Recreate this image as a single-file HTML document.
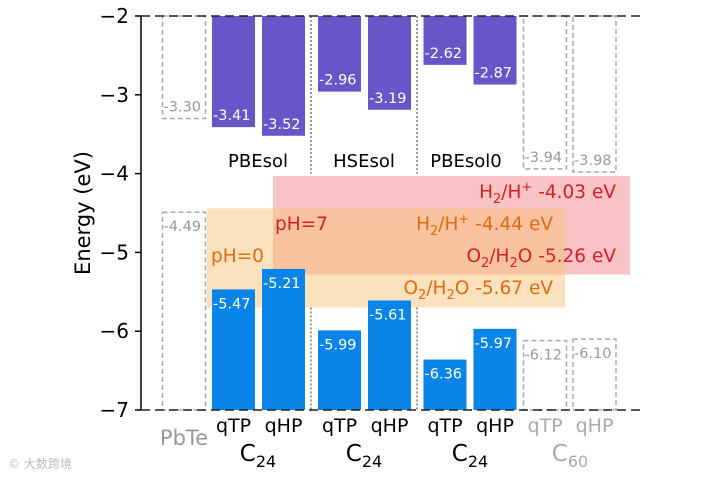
<!DOCTYPE html>
<html><head><meta charset="utf-8"><style>
body{margin:0;background:#fff;width:716px;height:477px;overflow:hidden}
svg{font-family:"DejaVu Sans","Liberation Sans",sans-serif}
</style></head><body>
<svg id="c" width="716" height="477"></svg>
<script>
const cats=["PbTe","qTP","qHP","qTP","qHP","qTP","qHP","qTP","qHP"];
const cbm=[-3.30,-3.41,-3.52,-2.96,-3.19,-2.62,-2.87,-3.94,-3.98];
const vbm=[-4.49,-5.47,-5.21,-5.99,-5.61,-6.36,-5.97,-6.12,-6.10];
const ghost=[true,false,false,false,false,false,false,true,true];
const yTicks=[-2,-3,-4,-5,-6,-7];
const groups=["PBEsol","HSEsol","PBEsol0"];
const NS="http://www.w3.org/2000/svg";
const svg=document.getElementById('c');
const centers=[184,233.5,283.5,339.5,389.5,445,495,545,594.5];
function y(v){return 16+(-2-v)*78.8;}
function el(t,a,txt){const e=document.createElementNS(NS,t);for(const k in a)e.setAttribute(k,a[k]);if(txt!==undefined)e.textContent=txt;svg.appendChild(e);return e;}
let r=el('rect',{x:273,y:y(-4.03),width:357,height:y(-5.28)-y(-4.03),fill:'#f9b4b7',opacity:0.8});

r=el('rect',{x:207,y:y(-4.44),width:358,height:y(-5.70)-y(-4.44),fill:'#f7c47a',opacity:0.5});

[311,417].forEach((x,i)=>{
 let l=el('line',{x1:x,x2:x,y1:y(-2),y2:y(-4),stroke:'#333','stroke-dasharray':'2,2','stroke-width':1});
 
 l=el('line',{x1:x,x2:x,y1:y(-5.7),y2:y(-7),stroke:'#333','stroke-dasharray':'2,2','stroke-width':1});
 
});
const w=43;
cats.forEach((c,i)=>{
 const x=centers[i]-w/2;
 let b;
 if(ghost[i]){
  b=el('rect',{x:x,y:y(-2),width:w,height:y(cbm[i])-y(-2),fill:'none',stroke:'#aaa','stroke-dasharray':'5,3','stroke-width':1.5});
 }else b=el('rect',{x:x,y:y(-2),width:w,height:y(cbm[i])-y(-2),fill:'#6a55c8'});
 
 let t=el('text',{x:x+1,y:y(cbm[i])-7,'font-size':14.5,fill:ghost[i]?'#999':'#fff'},cbm[i].toFixed(2));
 
 if(ghost[i]){
  b=el('rect',{x:x,y:y(vbm[i]),width:w,height:y(-7)-y(vbm[i]),fill:'none',stroke:'#aaa','stroke-dasharray':'5,3','stroke-width':1.5});
 }else b=el('rect',{x:x,y:y(vbm[i]),width:w,height:y(-7)-y(vbm[i]),fill:'#0a84e8'});
 
 t=el('text',{x:x+1,y:y(vbm[i])+19,'font-size':14.5,fill:ghost[i]?'#999':'#fff'},vbm[i].toFixed(2));
 
 if(i>0){t=el('text',{x:centers[i],y:432,'font-size':19,'text-anchor':'middle',fill:ghost[i]?'#aaa':'#000'},c);
 }
});
let t=el('text',{x:184,y:445,'font-size':21,'text-anchor':'middle',fill:'#999'},'PbTe');

[[258,'#000'],[364,'#000'],[470,'#000'],[570,'#aaa']].forEach((p,i)=>{
 const tt=el('text',{x:p[0],y:461,'font-size':23,'text-anchor':'middle',fill:p[1]});
 tt.innerHTML=(i==3?'C<tspan font-size="16" dy="6">60</tspan>':'C<tspan font-size="16" dy="6">24</tspan>');
 
});
[[258,'PBEsol'],[364,'HSEsol'],[466,'PBEsol0']].forEach(p=>{
 const tt=el('text',{x:p[0],y:167,'font-size':18,'text-anchor':'middle',fill:'#000'},p[1]);
 
});
let a=el('line',{x1:141,x2:141,y1:y(-2),y2:y(-7),stroke:'#000','stroke-width':1.5});

[-2,-7].forEach(v=>{const l=el('line',{x1:141,x2:642,y1:y(v),y2:y(v),stroke:'#222','stroke-dasharray':'9,5','stroke-width':1.5});
});
yTicks.forEach(v=>{
 let l=el('line',{x1:135,x2:141,y1:y(v),y2:y(v),stroke:'#000','stroke-width':1.5});
 
 let tt=el('text',{x:129,y:y(v)+7,'font-size':20,'text-anchor':'end'},'\u2212'+(-v));
 
});
t=el('text',{x:0,y:0,'font-size':21,'text-anchor':'middle',transform:'translate(90,213) rotate(-90)'},'Energy (eV)');

function lab(x,yy,html,col,name,anchor){const tt=el('text',{x:x,y:yy,'font-size':18.5,fill:col,'text-anchor':anchor||'end'});tt.innerHTML=html;
}
lab(616,198,'H<tspan font-size="13" dy="5">2</tspan><tspan dy="-5">/H</tspan><tspan font-size="13" dy="-7">+</tspan><tspan dy="7"> -4.03 eV</tspan>','#d62020','h2-ph7-label');
lab(275,230,'pH=7','#d62020','ph7-label','start');
lab(553,230,'H<tspan font-size="13" dy="5">2</tspan><tspan dy="-5">/H</tspan><tspan font-size="13" dy="-7">+</tspan><tspan dy="7"> -4.44 eV</tspan>','#e06a10','h2-ph0-label');
lab(616,262,'O<tspan font-size="13" dy="5">2</tspan><tspan dy="-5">/H</tspan><tspan font-size="13" dy="5">2</tspan><tspan dy="-5">O -5.26 eV</tspan>','#d62020','o2-ph7-label');
lab(211,262,'pH=0','#e06a10','ph0-label','start');
lab(553,294,'O<tspan font-size="13" dy="5">2</tspan><tspan dy="-5">/H</tspan><tspan font-size="13" dy="5">2</tspan><tspan dy="-5">O -5.67 eV</tspan>','#e06a10','o2-ph0-label');
t=el('text',{x:8,y:468,'font-size':12,fill:'#bbb'},'© 大数跨境');

</script>
</body></html>
